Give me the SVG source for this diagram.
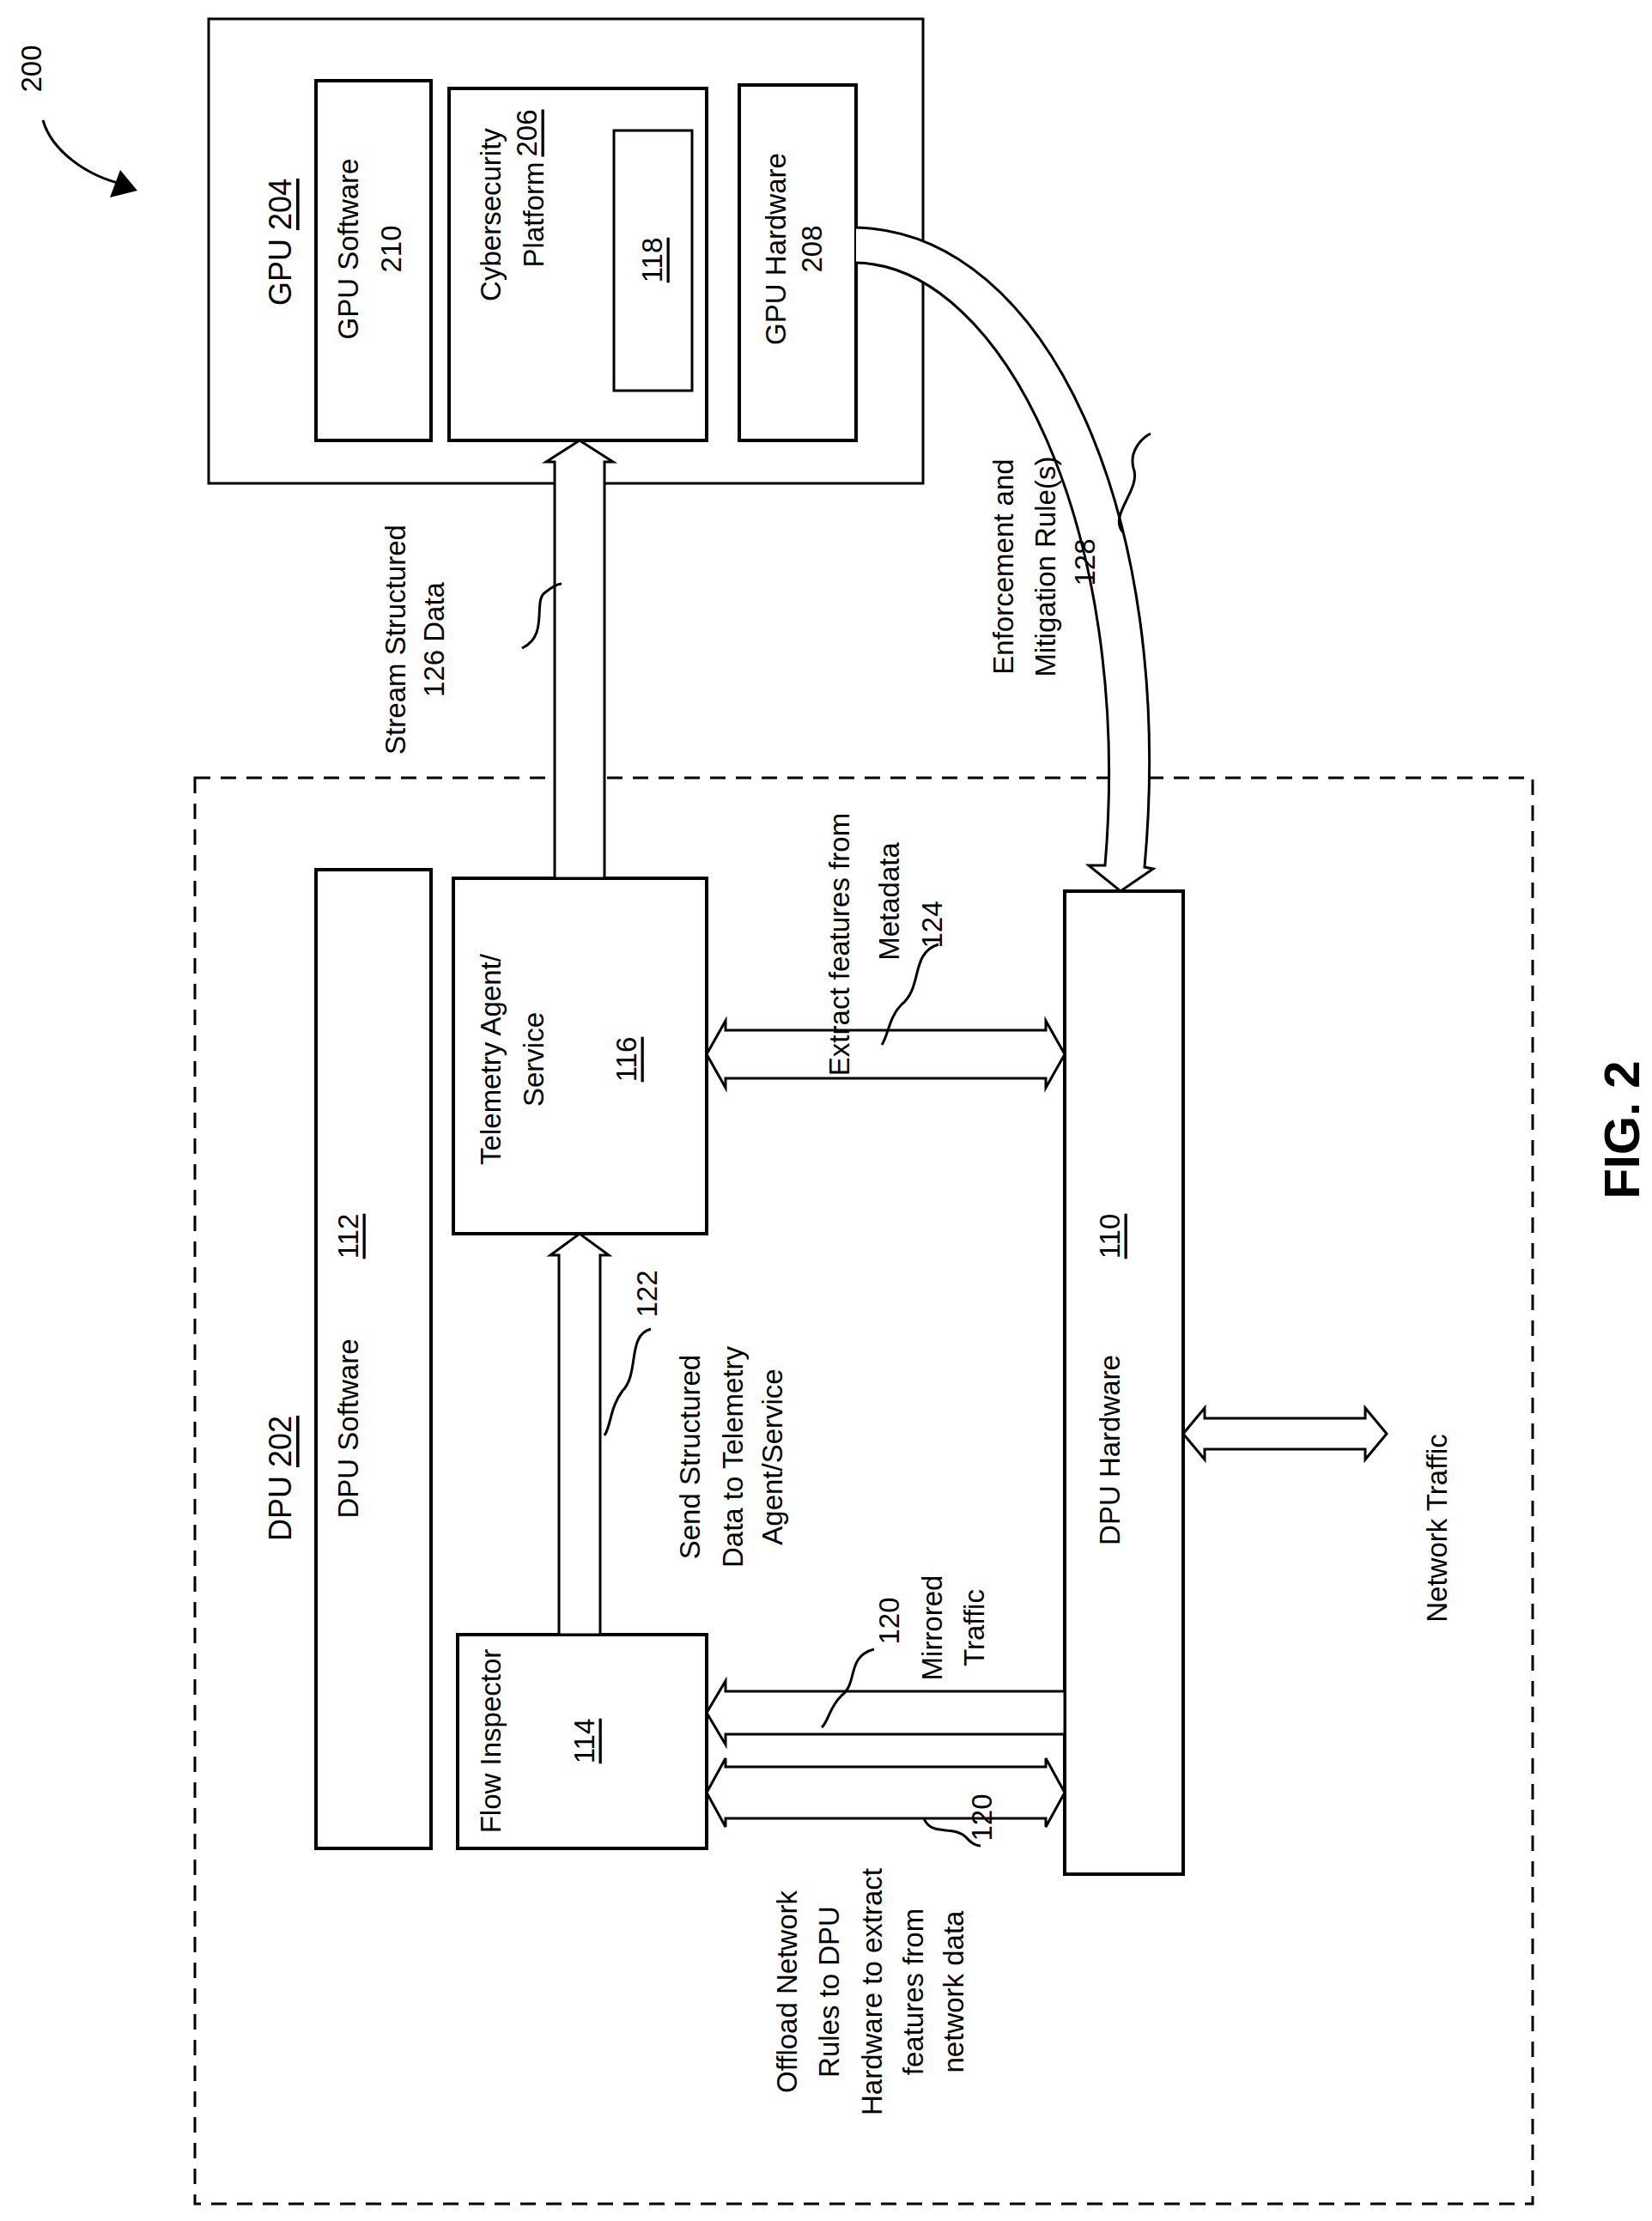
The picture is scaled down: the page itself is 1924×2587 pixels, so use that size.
<svg xmlns="http://www.w3.org/2000/svg" width="1924" height="2587" viewBox="0 0 1924 2587">
<style>
.b{fill:#fff;stroke:#000;stroke-width:4}
.a{fill:#fff;stroke:#000;stroke-width:3;stroke-linejoin:miter}
.l{fill:none;stroke:#000;stroke-width:3}
text{font-family:"Liberation Sans",Arial,sans-serif;font-size:33px;fill:#000;text-anchor:middle;dominant-baseline:central}
.u{text-decoration:underline}
</style>
<rect width="1924" height="2587" fill="#fff"/>
<g id="ref200">
<path class="l" d="M50,140 C60,175 100,205 145,215"/>
<polygon points="160,222 128,230 140,198" fill="#000"/>
<text transform="rotate(-90 36 80)" x="36" y="80">200</text>
</g>
<g id="gpu">
<rect x="243" y="22" width="832" height="541" fill="#fff" stroke="#000" stroke-width="3"/>
<text transform="rotate(-90 326 282)" x="326" y="282" style="font-size:36px">GPU <tspan class="u">204</tspan></text>
</g>
<g id="gpusw"><rect class="b" x="368" y="94" width="134" height="419"/>
<text transform="rotate(-90 405 290)" x="405" y="290">GPU Software</text>
<text transform="rotate(-90 455 290)" x="455" y="290">210</text></g>
<g id="cyber"><rect class="b" x="523" y="103" width="300" height="410"/>
<text transform="rotate(-90 571 250)" x="571" y="250">Cybersecurity</text>
<text transform="rotate(-90 621 250)" x="621" y="250">Platform</text>
<text transform="rotate(-90 613 155)" x="613" y="155" class="u">206</text>
<rect x="715" y="152" width="91" height="303" fill="none" stroke="#000" stroke-width="3"/>
<text transform="rotate(-90 759 303)" x="759" y="303" class="u">118</text></g>
<g id="gpuhw"><rect class="b" x="861" y="99" width="136" height="414"/>
<text transform="rotate(-90 903 290)" x="903" y="290">GPU Hardware</text>
<text transform="rotate(-90 945 290)" x="945" y="290">208</text></g>
<g id="dpu"><rect x="227" y="906" width="1558" height="1661" fill="none" stroke="#000" stroke-width="3" stroke-dasharray="18 12"/>
<text transform="rotate(-90 326 1722)" x="326" y="1722" style="font-size:36px">DPU <tspan class="u">202</tspan></text></g>
<g id="dpusw"><rect class="b" x="368" y="1013" width="134" height="1140"/>
<text transform="rotate(-90 405 1664)" x="405" y="1664">DPU Software</text>
<text transform="rotate(-90 405 1440)" x="405" y="1440" class="u">112</text></g>
<g id="tele"><rect class="b" x="528" y="1023" width="295" height="414"/>
<text transform="rotate(-90 571 1234)" x="571" y="1234">Telemetry Agent/</text>
<text transform="rotate(-90 621 1234)" x="621" y="1234">Service</text>
<text transform="rotate(-90 729 1234)" x="729" y="1234" class="u">116</text></g>
<g id="flow"><rect class="b" x="533" y="1904" width="290" height="249"/>
<text transform="rotate(-90 571 2028)" x="571" y="2028">Flow Inspector</text>
<text transform="rotate(-90 680 2028)" x="680" y="2028" class="u">114</text></g>
<g id="dpuhw"><rect class="b" x="1240" y="1038" width="138" height="1145"/>
<text transform="rotate(-90 1292 1689)" x="1292" y="1689">DPU Hardware</text>
<text transform="rotate(-90 1292 1440)" x="1292" y="1440" class="u">110</text></g>
<g id="connectors">
<polygon class="a" points="646,1023 646,538 636,538 675,513 714,538 704,538 704,1023"/>
<polygon class="a" points="651,1904 651,1462 641,1462 675,1437 709,1462 699,1462 699,1904"/>
<polygon class="a" points="823,1228 845,1189 845,1200 1218,1200 1218,1189 1240,1228 1218,1267 1218,1256 845,1256 845,1267"/>
<polygon class="a" points="823,1995 845,1958 845,1970 1240,1970 1240,2020 845,2020 845,2032"/>
<polygon class="a" points="823,2088 845,2048 845,2058 1218,2058 1218,2048 1240,2088 1218,2128 1218,2118 845,2118 845,2128"/>
<polygon class="a" points="1378,1670 1403,1640 1403,1652 1590,1652 1590,1640 1615,1670 1590,1700 1590,1688 1403,1688 1403,1700"/>
<path class="a" d="M997,265 C1220,270 1370,600 1333,1010 L1343,1012 L1305,1038 L1268,1008 L1287,1008 C1320,620 1170,310 997,306"/>
<path class="l" d="M608,755 C640,740 620,700 635,690 C645,682 650,680 654,680"/>
<path class="l" d="M1308,620 C1290,600 1330,570 1320,545 C1315,525 1330,510 1340,505"/>
<path class="l" d="M1093,1100 C1060,1110 1075,1150 1050,1170 C1035,1185 1035,1205 1027,1217"/>
<path class="l" d="M758,1548 C730,1555 745,1600 725,1620 C710,1640 712,1660 704,1672"/>
<path class="l" d="M1018,1921 C985,1930 1000,1960 980,1975 C965,1990 965,2005 957,2012"/>
<path class="l" d="M1076,2118 C1085,2140 1110,2125 1125,2140 C1132,2148 1138,2150 1142,2150"/>
</g>
<g id="labels">
<text transform="rotate(-90 460 745)" x="460" y="745">Stream Structured</text>
<text transform="rotate(-90 505 745)" x="505" y="745">126   Data</text>
<text transform="rotate(-90 1168 660)" x="1168" y="660">Enforcement and</text>
<text transform="rotate(-90 1217 660)" x="1217" y="660">Mitigation Rule(s)</text>
<text transform="rotate(-90 1263 655)" x="1263" y="655">128</text>
<text transform="rotate(-90 977 1100)" x="977" y="1100">Extract features from</text>
<text transform="rotate(-90 1035 1050)" x="1035" y="1050">Metadata</text>
<text transform="rotate(-90 1085 1077)" x="1085" y="1077">124</text>
<text transform="rotate(-90 803 1697)" x="803" y="1697">Send Structured</text>
<text transform="rotate(-90 853 1697)" x="853" y="1697">Data to Telemetry</text>
<text transform="rotate(-90 899 1697)" x="899" y="1697">Agent/Service</text>
<text transform="rotate(-90 753 1507)" x="753" y="1507">122</text>
<text transform="rotate(-90 1035 1888)" x="1035" y="1888">120</text>
<text transform="rotate(-90 1085 1896)" x="1085" y="1896">Mirrored</text>
<text transform="rotate(-90 1134 1896)" x="1134" y="1896">Traffic</text>
<text transform="rotate(-90 916 2320)" x="916" y="2320">Offload Network</text>
<text transform="rotate(-90 965 2320)" x="965" y="2320">Rules to DPU</text>
<text transform="rotate(-90 1015 2320)" x="1015" y="2320">Hardware to extract</text>
<text transform="rotate(-90 1063 2320)" x="1063" y="2320">features from</text>
<text transform="rotate(-90 1110 2320)" x="1110" y="2320">network data</text>
<text transform="rotate(-90 1143 2117)" x="1143" y="2117">120</text>
<text transform="rotate(-90 1673 1780)" x="1673" y="1780">Network Traffic</text>
<text transform="rotate(-90 1888 1316)" x="1888" y="1316" style="font-size:58px;font-weight:bold">FIG. 2</text>
</g>
</svg>
